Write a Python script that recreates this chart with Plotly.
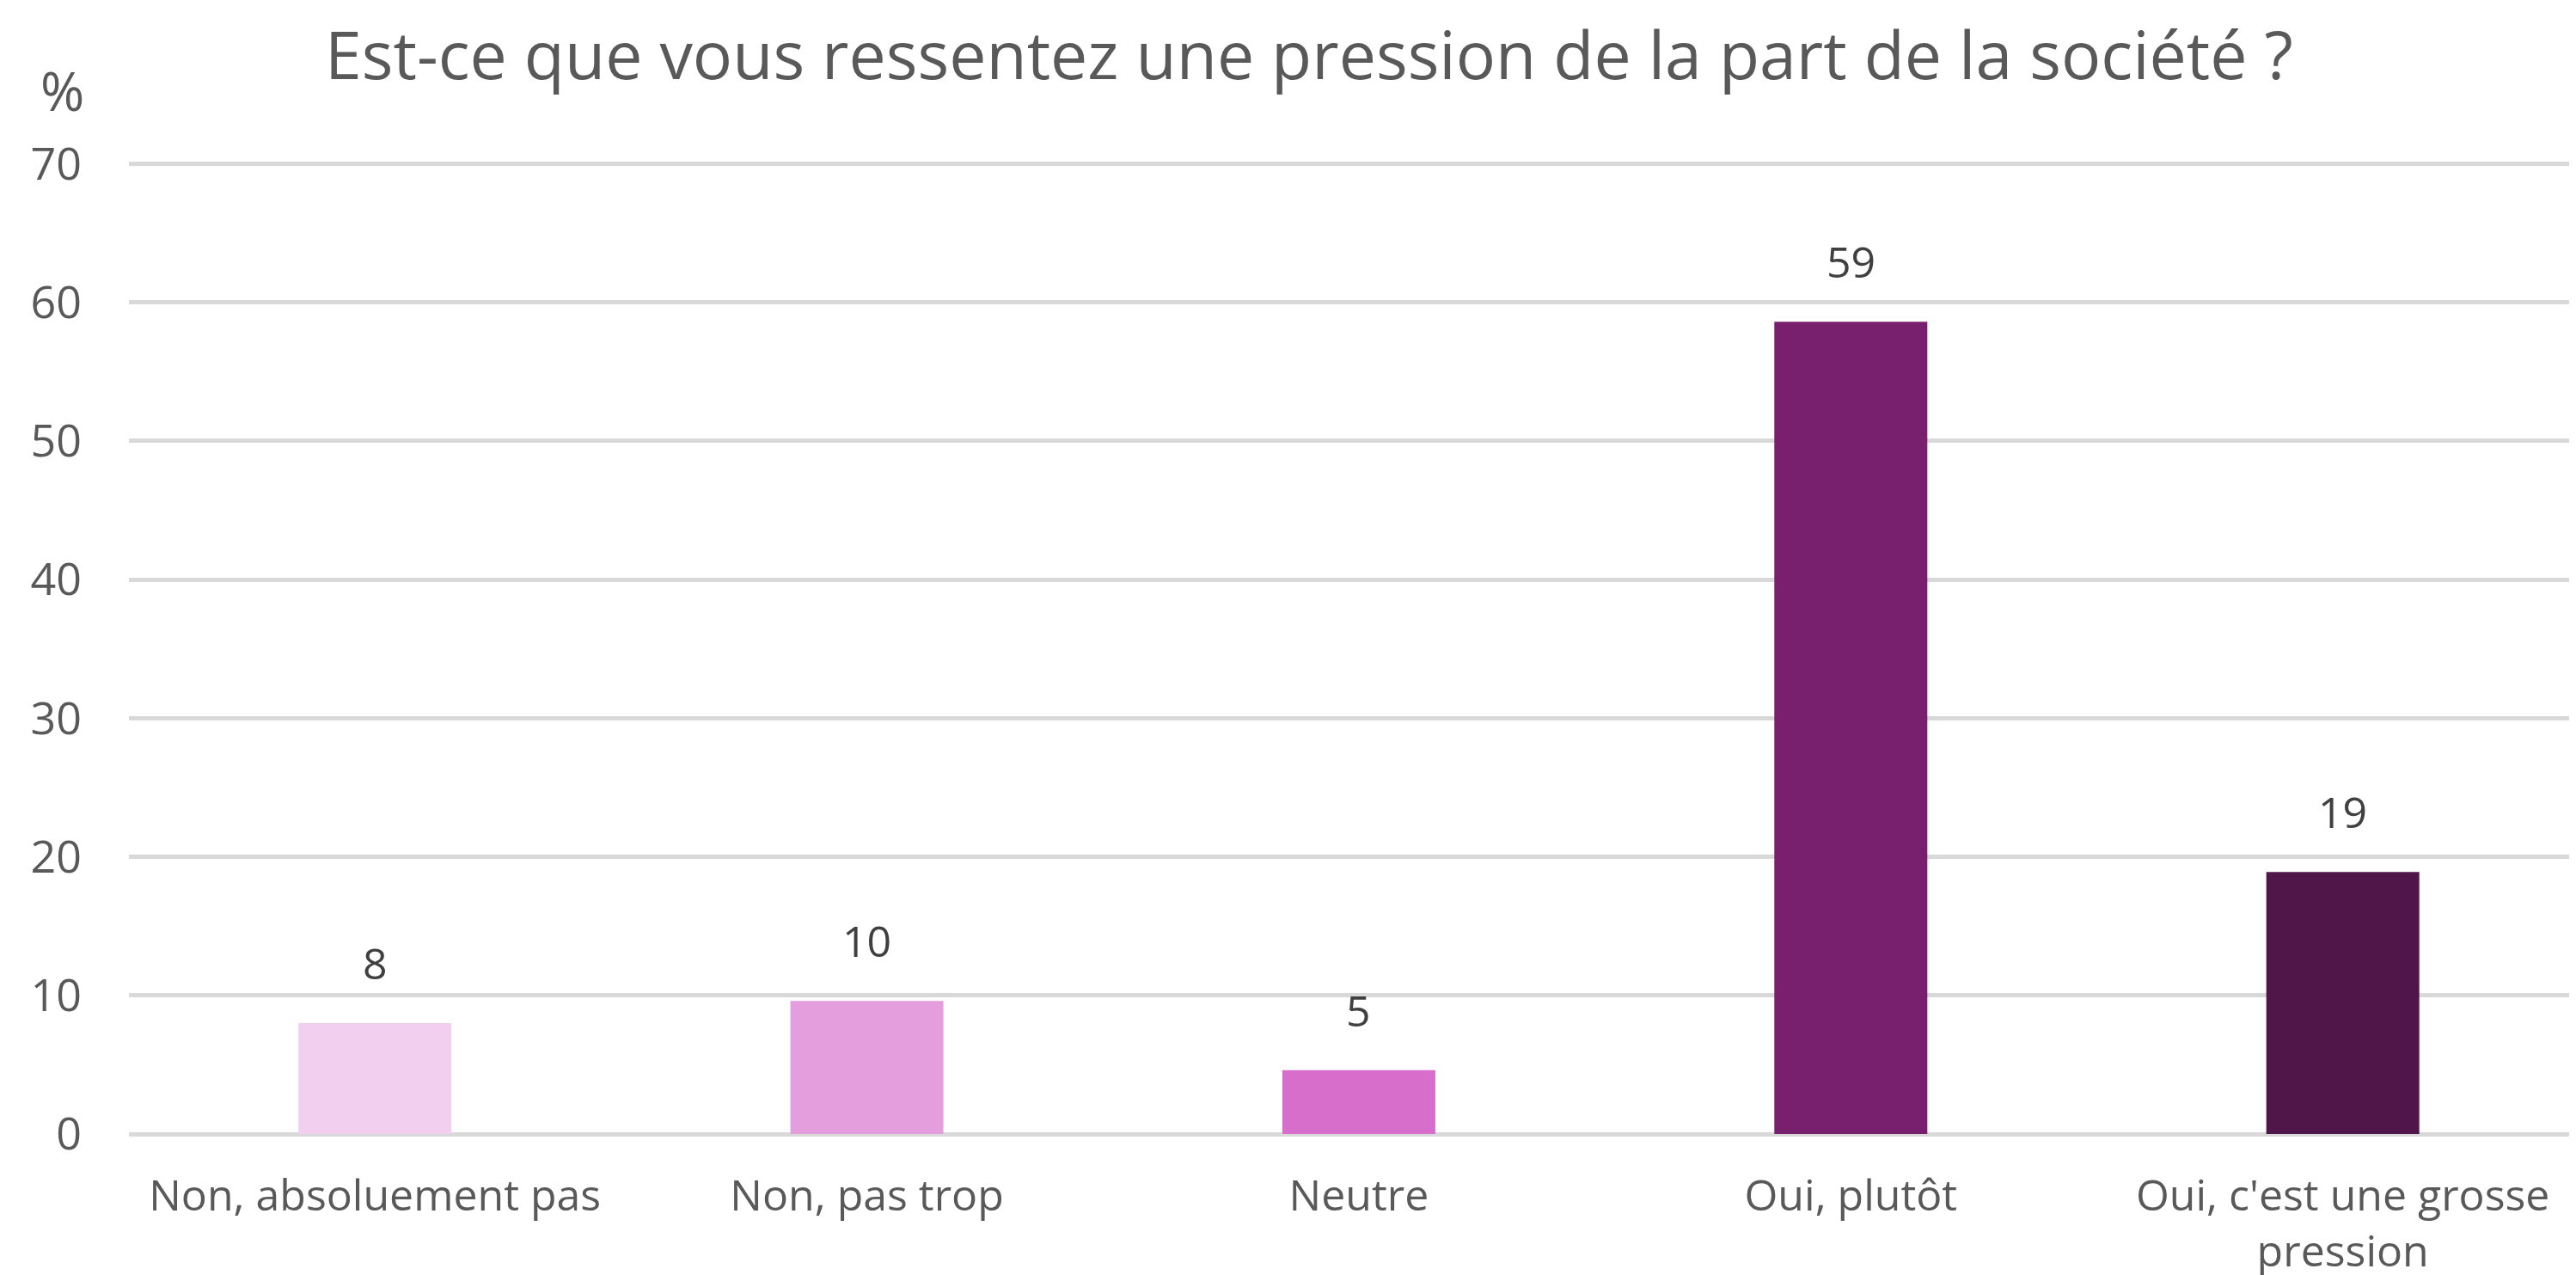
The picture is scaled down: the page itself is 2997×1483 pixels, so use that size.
import plotly.graph_objects as go

categories = ["Non, absoluement pas", "Non, pas trop", "Neutre", "Oui, plutôt",
              "Oui, c'est une grosse<br>pression"]
values = [8.0, 9.6, 4.6, 58.6, 18.9]
labels = ["8", "10", "5", "59", "19"]
colors = ["#F2CEEF", "#E59EDD", "#D86ECC", "#78206E", "#501549"]
y_ticks = [0, 10, 20, 30, 40, 50, 60, 70]

FONT = "Open Sans"
TXT = "#595959"

fig = go.Figure()
fig.add_trace(go.Bar(
    x=categories, y=values, marker=dict(color=colors, line=dict(width=0)),
    width=0.311, hoverinfo="skip",
))

for c, v, t in zip(categories, values, labels):
    fig.add_annotation(x=c, y=v, text=t, showarrow=False, yanchor="bottom",
                       yshift=34, font=dict(family=FONT, size=50, color="#404040"))

fig.add_annotation(xref="paper", yref="paper", x=0.4809, y=1.1551,
                   text="Est-ce que vous ressentez une pression de la part de la société ?",
                   showarrow=False, xanchor="center", yanchor="top",
                   font=dict(family=FONT, size=77, color=TXT))
fig.add_annotation(xref="paper", yref="paper", x=-0.0273, y=1.0696, text="%",
                   showarrow=False, xanchor="center", yanchor="middle",
                   font=dict(family=FONT, size=62, color=TXT))

fig.update_layout(
    width=2997, height=1483,
    margin=dict(l=142, r=0, t=176, b=172, autoexpand=False),
    paper_bgcolor="white", plot_bgcolor="white",
    showlegend=False,
    font=dict(family=FONT, color=TXT),
)
fig.update_xaxes(showgrid=False, showline=False, zeroline=False, ticks="",
                 tickfont=dict(family=FONT, size=50, color=TXT), automargin=False,
                 ticklabelstandoff=38, range=[-0.5, 4.488])
fig.update_yaxes(range=[0, 70.4], tickvals=y_ticks, showgrid=True, gridcolor="#D9D9D9",
                 gridwidth=5, zeroline=True, zerolinecolor="#D9D9D9", zerolinewidth=5,
                 showline=False, ticks="", automargin=False,
                 tickfont=dict(family=FONT, size=52, color=TXT),
                 ticklabelstandoff=54)

fig.write_html("out.html")
